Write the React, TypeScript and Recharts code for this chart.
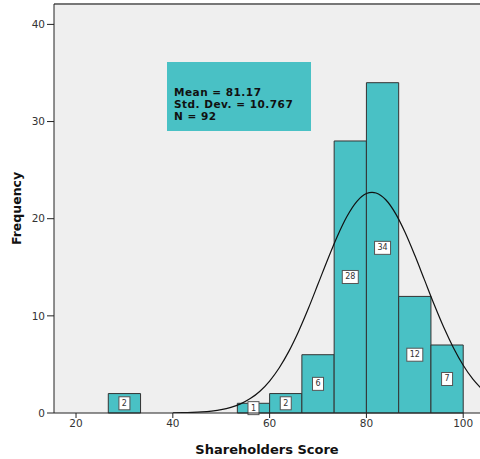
import React from "react";
import {
  ComposedChart,
  Line,
  XAxis,
  YAxis,
  CartesianGrid,
  ReferenceArea,
  ReferenceLine,
} from "recharts";

// histogram bins (Shareholders Score), width 100/15
const binLo = [26.667, 53.333, 60, 66.667, 73.333, 80, 86.667, 93.333];
const binHi = [33.333, 60, 66.667, 73.333, 80, 86.667, 93.333, 100];
const counts = [2, 1, 2, 6, 28, 34, 12, 7];

// fitted normal curve
const curveX = [
  40, 42, 44, 46, 48, 50, 52, 54, 56, 58, 60, 62, 64, 66, 68, 70, 72, 74, 76,
  78, 80, 81.17, 82, 84, 86, 88, 90, 92, 94, 96, 98, 100, 102, 104,
];
const curveY = [
  0.02, 0.03, 0.06, 0.11, 0.2, 0.34, 0.58, 0.94, 1.48, 2.24, 3.29, 4.66, 6.37,
  8.42, 10.75, 13.27, 15.81, 18.2, 20.25, 21.76, 22.59, 22.72, 22.65, 21.95,
  20.55, 18.58, 16.23, 13.7, 11.17, 8.8, 6.7, 4.92, 3.49, 2.4,
];

const xTicks = [20, 40, 60, 80, 100];
const yTicks = [0, 10, 20, 30, 40];

const statLines = ["Mean = 81.17", "Std. Dev. = 10.767", "N = 92"];

const TEAL = "#49C1C5";
const FONT = "'DejaVu Sans', Verdana, sans-serif";

const curveRows = curveX.map((x, i) => ({ x, y: curveY[i] }));

function BinTag({ viewBox, value }: any) {
  if (!viewBox) return null;
  const txt = String(value);
  const w = txt.length * 5 + 6;
  const h = 13;
  const cx = viewBox.x + viewBox.width / 2;
  const cy = viewBox.y + viewBox.height / 2;
  return (
    <g>
      <rect
        x={cx - w / 2}
        y={cy - h / 2}
        width={w}
        height={h}
        fill="#fff"
        stroke="#555"
        strokeWidth={1}
      />
      <text
        x={cx}
        y={cy}
        textAnchor="middle"
        dominantBaseline="central"
        fontSize={8}
        fontFamily={FONT}
        fill="#333"
      >
        {txt}
      </text>
    </g>
  );
}

export default function App() {
  return (
    <div style={{ position: "absolute", left: 0, top: 0, width: 480, height: 459 }}>
      <ComposedChart
        width={480}
        height={459}
        margin={{ top: 4, right: 0, bottom: 0, left: 0 }}
      >
        <CartesianGrid horizontal={false} vertical={false} fill="#EFEFEF" />
        <XAxis
          type="number"
          dataKey="x"
          domain={[15.45, 103.47]}
          allowDataOverflow
          ticks={xTicks}
          height={46}
          tickSize={5}
          stroke="#222"
          tick={{ fill: "#333", fontSize: 10.5, fontFamily: FONT }}
          label={{
            value: "Shareholders Score",
            position: "insideBottom",
            offset: 5,
            style: { fontFamily: FONT, fontSize: 13, fontWeight: "bold", fill: "#111" },
          }}
        />
        <YAxis
          type="number"
          domain={[0, 42.1]}
          allowDataOverflow
          ticks={yTicks}
          width={54}
          tickSize={7}
          stroke="#222"
          tick={{ fill: "#333", fontSize: 10.5, fontFamily: FONT }}
          label={{
            content: ({ viewBox }: any) => {
              const x = viewBox.x + 16;
              const y = viewBox.y + viewBox.height / 2;
              return (
                <text
                  x={x}
                  y={y}
                  transform={`rotate(-90, ${x}, ${y})`}
                  textAnchor="middle"
                  dominantBaseline="central"
                  fontFamily={FONT}
                  fontSize={12.5}
                  fontWeight="bold"
                  fill="#111"
                >
                  Frequency
                </text>
              );
            },
          }}
        />
        <ReferenceLine y={42.1} stroke="#777" strokeWidth={2} />
        {counts.map((c, i) => (
          <ReferenceArea
            key={i}
            x1={binLo[i]}
            x2={binHi[i]}
            y1={0}
            y2={c}
            fill={TEAL}
            fillOpacity={1}
            stroke="#333"
            strokeWidth={1}
            label={{ content: (p: any) => <BinTag viewBox={p.viewBox} value={c} /> }}
          />
        ))}
        <Line
          data={curveRows}
          dataKey="y"
          type="monotone"
          stroke="#111"
          strokeWidth={1.2}
          dot={false}
          activeDot={false}
          isAnimationActive={false}
        />
      </ComposedChart>
      <div
        style={{
          position: "absolute",
          left: 167,
          top: 62,
          width: 144,
          height: 69,
          background: TEAL,
          boxSizing: "border-box",
          paddingLeft: 7,
          paddingTop: 24,
          fontFamily: FONT,
          fontWeight: "bold",
          fontSize: 10.5,
          lineHeight: "12px",
          letterSpacing: "0.5px",
          color: "#111",
        }}
      >
        {statLines.map((s) => (
          <div key={s}>{s}</div>
        ))}
      </div>
    </div>
  );
}
